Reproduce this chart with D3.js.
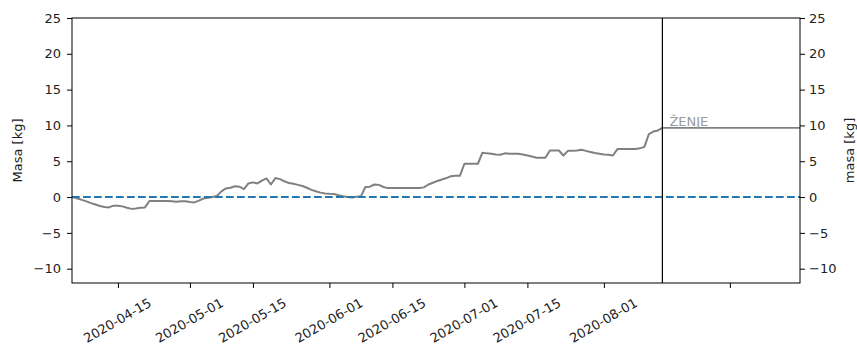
<!DOCTYPE html>
<html>
<head>
<meta charset="utf-8">
<script src="https://cdn.jsdelivr.net/npm/d3@7"></script>
<style>
  html, body { margin: 0; padding: 0; background: #fff; }
  svg { display: block; font-family: "DejaVu Sans", sans-serif; }
</style>
</head>
<body>
<svg id="chart" width="857" height="345"></svg>
<script>
// Daily mass change [kg], one value per day starting at firstDay
const firstDay = "2020-04-05";
const aprValues = [0, -0.2, -0.4, -0.6, -0.85, -1.05, -1.25, -1.4, -1.45, -1.2, -1.2, -1.3, -1.5,
  -1.65, -1.6, -1.5, -1.45, -0.55, -0.55, -0.55, -0.55, -0.55, -0.6, -0.65, -0.6, -0.6];
const mayValues = [-0.7, -0.75, -0.5, -0.2, -0.1, 0.0, 0.15, 0.8, 1.2, 1.3, 1.5, 1.45, 1.1, 1.9,
  2.05, 1.9, 2.3, 2.6, 1.75, 2.65, 2.5, 2.2, 1.95, 1.85, 1.7, 1.55, 1.3, 1.0, 0.8, 0.62, 0.5];
const junValues = [0.45, 0.42, 0.25, 0.12, 0.02, -0.05, 0.05, 0.1, 1.4, 1.45, 1.75, 1.7, 1.4,
  1.25, 1.25, 1.25, 1.25, 1.25, 1.25, 1.25, 1.25, 1.35, 1.75, 2.0, 2.25, 2.45, 2.65, 2.9, 2.97, 2.97];
const julValues = [4.65, 4.65, 4.65, 4.65, 6.2, 6.1, 6.05, 5.95, 5.9, 6.1, 6.05, 6.05, 6.05, 5.95,
  5.8, 5.65, 5.5, 5.5, 5.5, 6.5, 6.5, 6.5, 5.8, 6.45, 6.45, 6.5, 6.6, 6.45, 6.3, 6.15, 6.05];
const augValues = [5.95, 5.9, 5.8, 6.7, 6.7, 6.7, 6.7, 6.72, 6.8, 7.0, 8.8, 9.15, 9.3, 9.65];

// Harvest marker
const harvestDate = "2020-08-14";
const harvestLabel = "ŽENJE";

// Axis settings
const xDomain = ["2020-04-04T19:00:00Z", "2020-09-13T14:00:00Z"];
const xTickDates = ["2020-04-15", "2020-05-01", "2020-05-15", "2020-06-01", "2020-06-15",
  "2020-07-01", "2020-07-15", "2020-08-01", "2020-08-29"];
const xTickLabels = ["2020-04-15", "2020-05-01", "2020-05-15", "2020-06-01", "2020-06-15",
  "2020-07-01", "2020-07-15", "2020-08-01", ""];
const yDomain = [-12, 25];
const yTicks = [-10, -5, 0, 5, 10, 15, 20, 25];
const leftTitle = "Masa [kg]";
const rightTitle = "masa [kg]";

const parse = d3.utcParse("%Y-%m-%d");
const values = [].concat(aprValues, mayValues, junValues, julValues, augValues);
const start = parse(firstDay);
const series = values.map((v, i) => ({ date: d3.utcDay.offset(start, i), value: v }));

const L = 72, R = 800, T = 18, B = 283;
const svg = d3.select("#chart");
const font = '"DejaVu Sans", sans-serif';

const x = d3.scaleUtc().domain(xDomain.map(d => new Date(d))).range([L, R]);
const y = d3.scaleLinear().domain(yDomain).range([B, T]);

// Mass curve
const line = d3.line().x(d => x(d.date)).y(d => y(d.value));
svg.append("path")
  .datum(series)
  .attr("d", line)
  .attr("fill", "none")
  .attr("stroke", "#808080")
  .attr("stroke-width", 2)
  .attr("stroke-linejoin", "round");

// Final mass after harvest, carried to the end of the axis
const last = series[series.length - 1];
svg.append("path")
  .datum([{ date: parse(harvestDate), value: last.value }, { date: x.domain()[1], value: last.value }])
  .attr("d", line)
  .attr("fill", "none")
  .attr("stroke", "#808080")
  .attr("stroke-width", 1.8);

// Zero reference
svg.append("line")
  .attr("x1", L).attr("x2", R)
  .attr("y1", y(0)).attr("y2", y(0))
  .attr("stroke", "#1f77b4")
  .attr("stroke-width", 2)
  .attr("stroke-dasharray", "7.7,3.3");

// Harvest day marker
svg.append("line")
  .attr("x1", x(parse(harvestDate))).attr("x2", x(parse(harvestDate)))
  .attr("y1", T).attr("y2", B)
  .attr("stroke", "#000")
  .attr("stroke-width", 1.2);

svg.append("text")
  .attr("x", x(parse(harvestDate)) + 7)
  .attr("y", y(last.value) - 2)
  .attr("font-size", 13)
  .attr("font-family", font)
  .attr("fill", "#9a9a9a")
  .text(harvestLabel);

// Frame
svg.append("rect")
  .attr("x", L).attr("y", T)
  .attr("width", R - L).attr("height", B - T)
  .attr("fill", "none")
  .attr("stroke", "#000")
  .attr("stroke-width", 1);

function styleAxis(g) {
  g.select(".domain").remove();
  g.attr("font-size", 13).attr("font-family", font);
  g.selectAll(".tick line").attr("stroke", "#000").attr("stroke-width", 1);
  g.selectAll(".tick text").attr("fill", "#222");
}

svg.append("g")
  .attr("transform", `translate(${L},0)`)
  .call(d3.axisLeft(y).tickValues(yTicks).tickSize(5).tickPadding(6))
  .call(styleAxis);

svg.append("g")
  .attr("transform", `translate(${R},0)`)
  .call(d3.axisRight(y).tickValues(yTicks).tickSize(5).tickPadding(4))
  .call(styleAxis);

const xAxis = svg.append("g")
  .attr("transform", `translate(0,${B})`)
  .call(d3.axisBottom(x).tickValues(xTickDates.map(parse)).tickSize(5)
    .tickFormat((d, i) => xTickLabels[i]))
  .call(styleAxis);
xAxis.selectAll(".tick text")
  .attr("y", 0)
  .attr("dy", null)
  .attr("text-anchor", "middle")
  .attr("dominant-baseline", "central")
  .attr("transform", "translate(-1,37.5) rotate(-30)");

// Axis titles
svg.append("text")
  .attr("transform", `translate(21.8,${(T + B) / 2}) rotate(-90)`)
  .attr("text-anchor", "middle")
  .attr("font-size", 13)
  .attr("font-family", font)
  .attr("fill", "#222")
  .text(leftTitle);

svg.append("text")
  .attr("transform", `translate(853.5,${(T + B) / 2}) rotate(-90)`)
  .attr("text-anchor", "middle")
  .attr("font-size", 13)
  .attr("font-family", font)
  .attr("fill", "#222")
  .text(rightTitle);
</script>
</body>
</html>
